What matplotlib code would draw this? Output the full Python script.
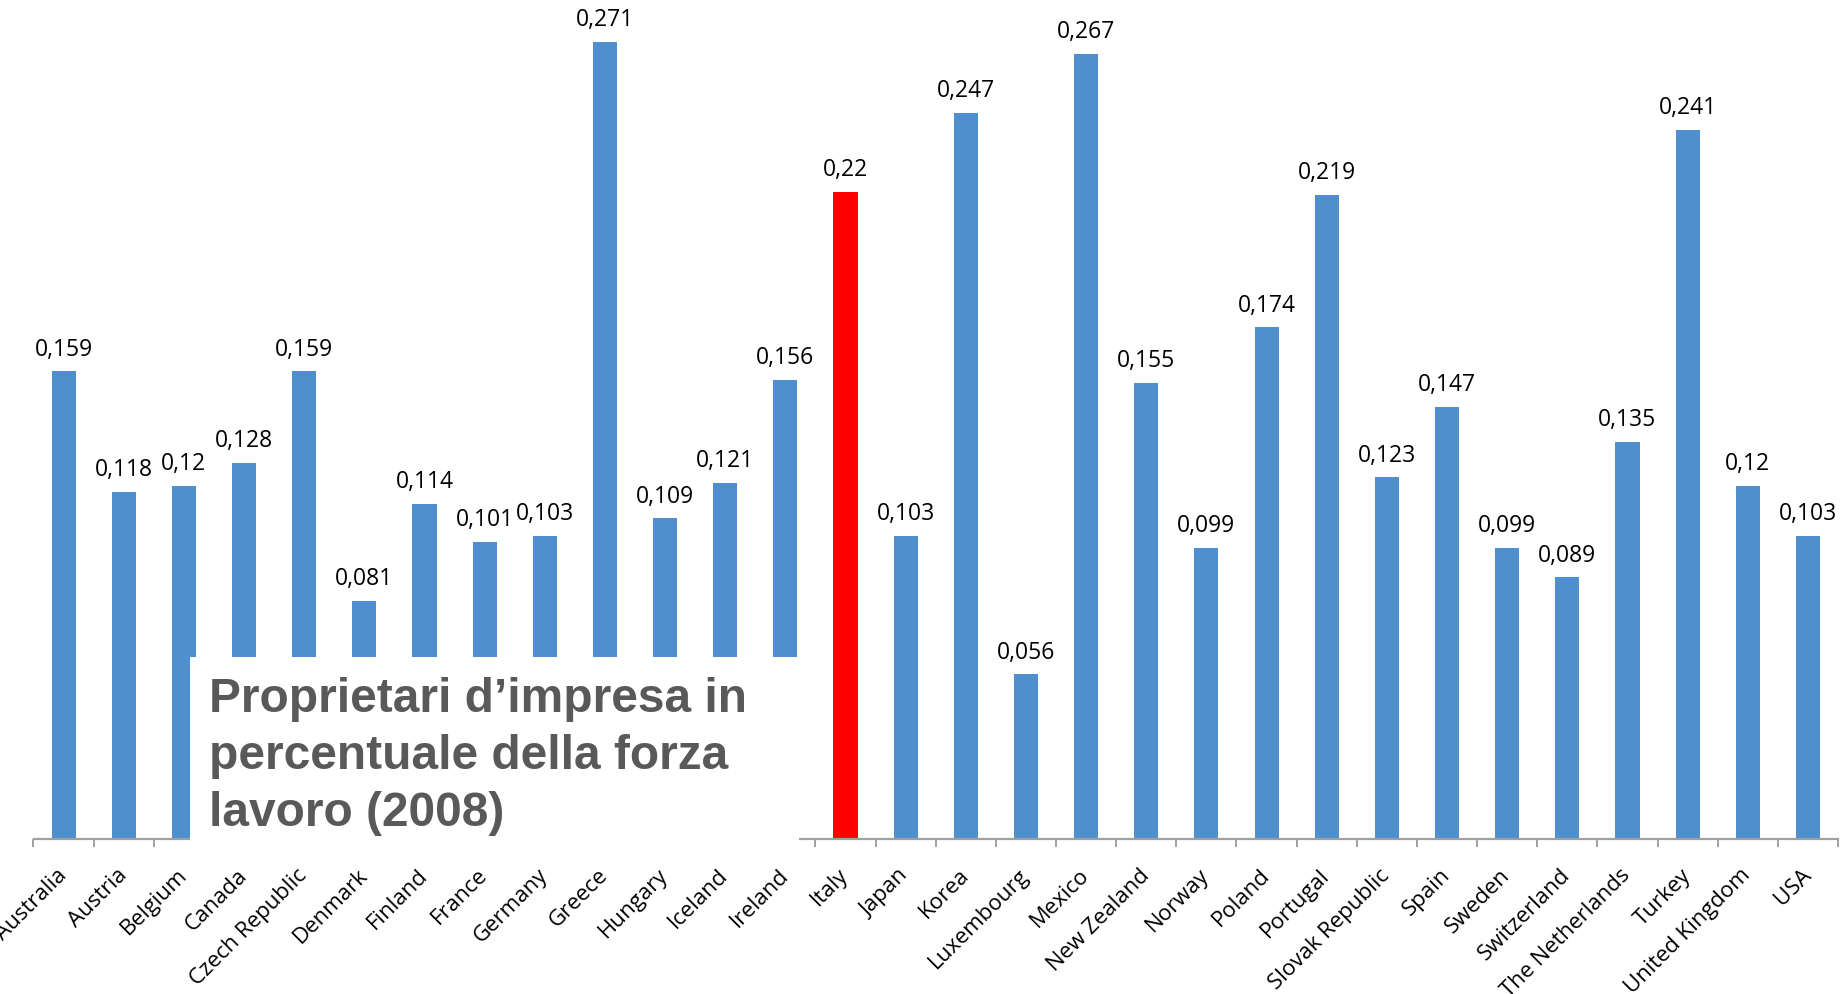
import matplotlib
matplotlib.use("Agg")
import matplotlib.pyplot as plt
from matplotlib.patches import Rectangle

countries = ["Australia", "Austria", "Belgium", "Canada", "Czech Republic", "Denmark",
             "Finland", "France", "Germany", "Greece", "Hungary", "Iceland", "Ireland",
             "Italy", "Japan", "Korea", "Luxembourg", "Mexico", "New Zealand", "Norway",
             "Poland", "Portugal", "Slovak Republic", "Spain", "Sweden", "Switzerland",
             "The Netherlands", "Turkey", "United Kingdom", "USA"]
values = [0.159, 0.118, 0.12, 0.128, 0.159, 0.081, 0.114, 0.101, 0.103, 0.271,
          0.109, 0.121, 0.156, 0.22, 0.103, 0.247, 0.056, 0.267, 0.155, 0.099,
          0.174, 0.219, 0.123, 0.147, 0.099, 0.089, 0.135, 0.241, 0.12, 0.103]
highlight = "Italy"
title_text = "Proprietari d\u2019impresa in\npercentuale della forza\nlavoro (2008)"

W, H = 1845, 994
fig = plt.figure(figsize=(W / 100, H / 100), dpi=100)
ax = fig.add_axes([33.5 / W, 155 / H, (1838 - 33.5) / W, 823.5 / H])

blue = "#4f8fcd"
red = "#ff0000"
colors = [red if c == highlight else blue for c in countries]
x = list(range(len(countries)))
ax.bar(x, values, width=0.4, color=colors, zorder=2)

ax.set_xlim(-0.5, len(countries) - 0.5)
ax.set_ylim(0, 0.28)

for xi, v in zip(x, values):
    ax.annotate(str(v).replace(".", ","), (xi, v), xytext=(0, 7), textcoords="offset points",
                ha="center", va="bottom", fontsize=16.5, family="Open Sans", color="#000000",
                annotation_clip=False)

for s in ["top", "right", "left"]:
    ax.spines[s].set_visible(False)
ax.spines["bottom"].set_color("#a0a0a0")
ax.spines["bottom"].set_linewidth(1.6)
ax.set_yticks([])

ax.set_xticks(x)
ax.set_xticklabels(countries, rotation=45, ha="right", va="center", rotation_mode="anchor",
                   fontsize=16, family="Open Sans")
ax.tick_params(axis="x", which="major", length=0, pad=24)
ax.set_xticks([i - 0.5 for i in range(len(countries) + 1)], minor=True)
ax.tick_params(axis="x", which="minor", length=6, width=1.4, color="#a0a0a0", direction="out")

# white text panel
box = Rectangle((190 / W, 1 - 847 / H), (799 - 190) / W, (847 - 657) / H,
                transform=fig.transFigure, facecolor="white", edgecolor="none", zorder=10)
fig.patches.append(box)
fig.text(209 / W, 1 - 677 / H, title_text, ha="left", va="top", fontsize=34.5,
         family="Liberation Sans", fontweight="bold", color="#595959", linespacing=1.34,
         zorder=11)

fig.savefig("out.png", dpi=100, facecolor="white")
